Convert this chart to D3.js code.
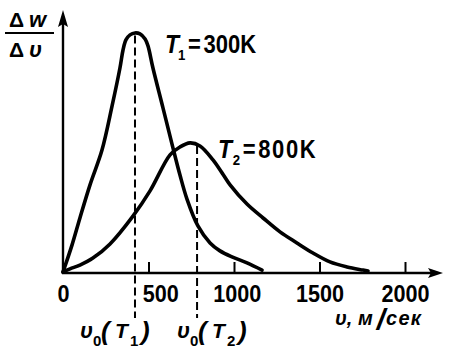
<!DOCTYPE html>
<html>
<head>
<meta charset="utf-8">
<script src="https://cdn.jsdelivr.net/npm/d3@7"></script>
<style>
  html, body { margin: 0; padding: 0; background: #fff; }
  svg { display: block; }
  text { font-family: "Liberation Sans", Arial, sans-serif; fill: #000; font-weight: bold; }
</style>
</head>
<body>
<svg id="chart" width="455" height="351"></svg>
<script>
// ---- data (speed in m/s, relative Δw/Δv in arbitrary units 0..100) ----
const t1Speed = [0, 53, 99, 158, 228, 287, 333, 351, 368, 392, 421, 450, 480, 497, 526, 585, 643, 684, 725, 789, 860, 918, 988, 1076, 1164];
const t1Value = [0, 11.3, 22.5, 36.3, 50.8, 69.2, 85, 92.5, 96.7, 98.8, 99.6, 99.2, 97.1, 94.2, 85, 68.3, 51.7, 40.4, 30.4, 19.2, 12.1, 8.8, 6.3, 3.8, 0.8];
const t2Speed = [0, 41, 99, 175, 275, 409, 509, 626, 684, 743, 801, 877, 930, 977, 1076, 1170, 1269, 1368, 1462, 1561, 1661, 1754, 1784];
const t2Value = [0, 1.3, 2.9, 5.8, 11.7, 23.3, 33.8, 48.8, 52.1, 53.8, 52.5, 46.7, 41.3, 36.3, 28.3, 22.5, 16.7, 12.1, 7.9, 4.2, 2.1, 0.8, 0.4];
const xTicks = [0, 500, 1000, 1500, 2000];
const v0Speed = [421, 784];       // most probable speeds marked by dashed lines
const v0Top = [98.5, 52.5];       // dashed lines start just under the curve peaks
const curveIndex = ["1", "2"];
const curveTemps = ["300K", "800K"];

const svg = d3.select("#chart");
const x = d3.scaleLinear().domain([0, 2000]).range([63, 405]);
const y = d3.scaleLinear().domain([0, 100]).range([272, 32]);

// ---- curves ----
const line = d3.line().x(d => x(d[0])).y(d => y(d[1])).curve(d3.curveCatmullRom.alpha(0.5));
const series = [d3.zip(t1Speed, t1Value), d3.zip(t2Speed, t2Value)];
svg.selectAll("path.curve").data(series).enter().append("path")
  .attr("class", "curve")
  .attr("d", line)
  .attr("fill", "none").attr("stroke", "#000")
  .attr("stroke-width", 3.6).attr("stroke-linecap", "round").attr("stroke-linejoin", "round");

// ---- dashed verticals ----
svg.selectAll("line.v0").data(v0Speed).enter().append("line")
  .attr("class", "v0")
  .attr("x1", d => x(d)).attr("x2", d => x(d))
  .attr("y1", (d, i) => y(v0Top[i])).attr("y2", 318)
  .attr("stroke", "#000").attr("stroke-width", 2).attr("stroke-dasharray", "8,4");

// ---- x axis ----
const xAxis = d3.axisBottom(x).tickValues(xTicks).tickFormat(d3.format("d"))
  .tickSizeInner(-11).tickSizeOuter(0).tickPadding(12);
const gx = svg.append("g").attr("transform", "translate(0,273)").call(xAxis);
gx.select(".domain").remove();
gx.selectAll(".tick line").attr("stroke", "#000").attr("stroke-width", 2)
  .filter(d => d === 0).remove();
gx.selectAll(".tick text")
  .attr("font-family", "Liberation Sans, Arial, sans-serif")
  .attr("font-size", 24).attr("font-weight", "bold").attr("fill", "#000")
  .attr("dx", d => d === 500 ? 13 : (d === 1000 ? 3 : 0))
  .attr("transform", "scale(0.9,1)");

svg.append("line").attr("x1", 62).attr("x2", 436).attr("y1", 273).attr("y2", 273)
  .attr("stroke", "#000").attr("stroke-width", 2.4);
svg.append("path").attr("d", "M443,273 L428,268 L431,273 L428,278 Z").attr("fill", "#000");

// ---- y axis ----
svg.append("line").attr("x1", 63).attr("x2", 63).attr("y1", 274).attr("y2", 22)
  .attr("stroke", "#000").attr("stroke-width", 2.4);
svg.append("path").attr("d", "M63,10 L58,27 L63,24 L68,27 Z").attr("fill", "#000");

// ---- y label: Δw / Δv ----
svg.append("text").attr("x", 9).attr("y", 27).attr("font-size", 21).text("Δ");
svg.append("text").attr("x", 29).attr("y", 27).attr("font-size", 22).attr("font-style", "italic")
  .attr("letter-spacing", 1).text("w");
svg.append("line").attr("x1", 5).attr("x2", 54).attr("y1", 33).attr("y2", 33)
  .attr("stroke", "#000").attr("stroke-width", 2.2);
svg.append("text").attr("x", 9).attr("y", 57).attr("font-size", 21).text("Δ");
svg.append("text").attr("x", 29).attr("y", 57).attr("font-size", 22).attr("font-style", "italic").text("υ");

// ---- curve labels (T1 = 300K, T2 = 800K) ----
const labelPos = [[165, 53], [218, 158]];
const labelSpacing = [0, 1.8];
curveIndex.forEach((n, i) => {
  const g = svg.append("g")
    .attr("transform", `translate(${labelPos[i][0]},${labelPos[i][1]}) scale(0.88,1)`);
  const t = g.append("text").attr("font-size", 25);
  t.append("tspan").attr("font-style", "italic").attr("font-size", 26).text("T");
  t.append("tspan").attr("font-size", 15).attr("dy", 7).attr("dx", i ? 1 : -1).text(n);
  t.append("tspan").attr("dy", -7).attr("dx", 3).text("=");
  t.append("tspan").attr("dx", 3).attr("letter-spacing", labelSpacing[i]).text(curveTemps[i]);
});

// ---- v0 labels under the axis ----
const v0LabelX = [80, 177];
const partOffset = [0, 13, 21, 35, 50, 61];
curveIndex.forEach((n, i) => {
  const g = svg.append("g").attr("transform", `translate(${v0LabelX[i]},338)`);
  const parts = [
    { t: "υ", size: 22, italic: true, dy: 0 },
    { t: "0", size: 15, italic: false, dy: 8 },
    { t: "(", size: 26, italic: true, dy: 2 },
    { t: "T", size: 21, italic: true, dy: 0 },
    { t: n, size: 15, italic: false, dy: 8 },
    { t: ")", size: 26, italic: true, dy: 2 }
  ];
  parts.forEach((p, k) => {
    g.append("text").attr("x", partOffset[k]).attr("y", p.dy)
      .attr("font-size", p.size).attr("font-style", p.italic ? "italic" : "normal")
      .text(p.t);
  });
});

// ---- x axis title ----
const xt = svg.append("text").attr("x", 335).attr("y", 325)
  .attr("font-size", 20).attr("font-style", "italic");
xt.append("tspan").text("υ, м");
xt.append("tspan").attr("dx", 4).attr("font-size", 30).attr("dy", 5).text("/");
xt.append("tspan").attr("dx", 1).attr("dy", -5).attr("letter-spacing", 1.2).text("сек");
</script>
</body>
</html>
